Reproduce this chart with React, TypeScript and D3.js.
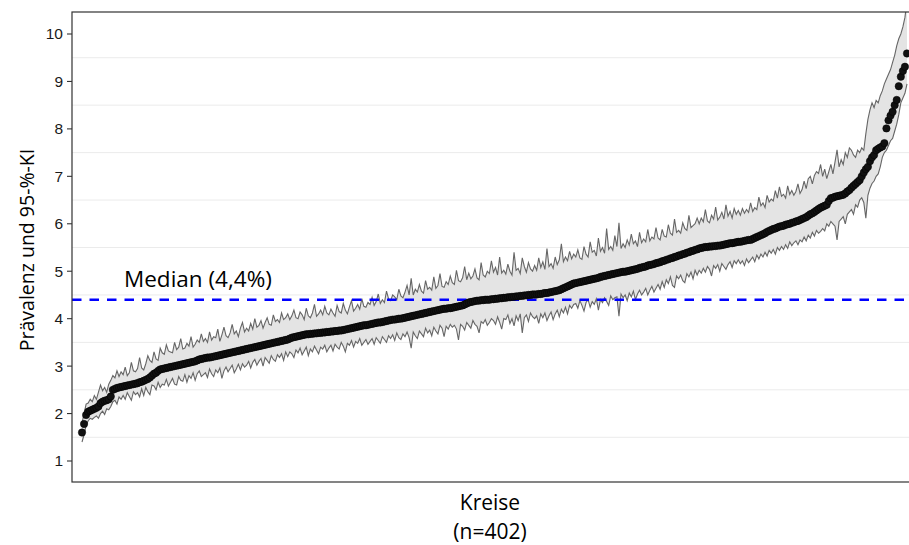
import React from 'react';
import * as d3 from 'd3';

// Prävalenz je Kreis (sortiert), mit unterer und oberer Grenze des 95-%-KI
const prevalence = [
  1.60,1.78,1.97,2.04,2.06,2.08,2.10,2.12,2.15,2.22,2.25,2.27,2.28,2.30,2.36,2.50,2.52,2.54,2.55,2.56,
  2.57,2.58,2.59,2.60,2.61,2.62,2.63,2.64,2.66,2.67,2.69,2.71,2.73,2.76,2.80,2.84,2.86,2.90,2.93,2.94,
  2.95,2.96,2.97,2.98,2.99,3.00,3.01,3.02,3.03,3.04,3.05,3.06,3.07,3.08,3.09,3.10,3.12,3.14,3.15,3.16,
  3.17,3.18,3.18,3.19,3.20,3.21,3.22,3.23,3.24,3.25,3.26,3.27,3.28,3.29,3.30,3.31,3.32,3.33,3.34,3.35,
  3.36,3.37,3.38,3.39,3.40,3.41,3.42,3.43,3.44,3.45,3.46,3.47,3.48,3.49,3.50,3.51,3.52,3.53,3.54,3.55,
  3.56,3.58,3.60,3.61,3.62,3.63,3.64,3.65,3.66,3.67,3.67,3.68,3.68,3.69,3.69,3.70,3.70,3.71,3.71,3.72,
  3.72,3.73,3.73,3.74,3.74,3.75,3.75,3.76,3.77,3.78,3.79,3.80,3.81,3.82,3.83,3.84,3.85,3.86,3.86,3.87,
  3.88,3.89,3.90,3.91,3.92,3.92,3.93,3.94,3.95,3.96,3.97,3.98,3.98,3.99,4.00,4.00,4.01,4.02,4.03,4.04,
  4.05,4.06,4.07,4.08,4.09,4.10,4.11,4.12,4.13,4.14,4.15,4.16,4.17,4.18,4.19,4.20,4.21,4.21,4.22,4.22,
  4.23,4.24,4.25,4.26,4.27,4.28,4.30,4.32,4.34,4.35,4.36,4.37,4.38,4.38,4.39,4.39,4.40,4.40,4.40,4.41,
  4.41,4.42,4.42,4.43,4.43,4.44,4.44,4.45,4.45,4.46,4.46,4.47,4.47,4.48,4.48,4.49,4.49,4.50,4.50,4.51,
  4.51,4.51,4.52,4.52,4.53,4.54,4.54,4.55,4.56,4.57,4.58,4.59,4.60,4.62,4.64,4.66,4.68,4.70,4.72,4.74,
  4.75,4.76,4.77,4.78,4.79,4.80,4.81,4.82,4.83,4.84,4.85,4.86,4.88,4.89,4.90,4.91,4.92,4.93,4.94,4.95,
  4.96,4.97,4.98,4.99,4.99,5.00,5.01,5.02,5.03,5.04,5.05,5.07,5.08,5.09,5.10,5.12,5.13,5.14,5.15,5.17,
  5.18,5.19,5.21,5.22,5.24,5.25,5.27,5.28,5.30,5.31,5.33,5.34,5.36,5.37,5.39,5.40,5.42,5.43,5.45,5.46,
  5.48,5.49,5.50,5.51,5.51,5.52,5.52,5.53,5.53,5.54,5.54,5.55,5.56,5.57,5.58,5.59,5.59,5.60,5.61,5.62,
  5.62,5.63,5.64,5.65,5.66,5.66,5.68,5.70,5.72,5.74,5.76,5.78,5.80,5.83,5.85,5.87,5.89,5.90,5.92,5.94,
  5.95,5.96,5.98,5.99,6.00,6.02,6.03,6.05,6.06,6.08,6.10,6.12,6.14,6.17,6.20,6.22,6.25,6.28,6.31,6.34,
  6.36,6.38,6.40,6.48,6.54,6.55,6.57,6.58,6.59,6.60,6.61,6.64,6.68,6.71,6.76,6.80,6.84,6.88,6.92,7.00,
  7.08,7.15,7.20,7.32,7.40,7.45,7.55,7.58,7.61,7.63,7.70,8.01,8.18,8.28,8.36,8.50,8.61,8.90,9.10,9.22,
  9.31,9.59,
];

const upper = [
  1.80,2.00,2.20,2.22,2.30,2.25,2.38,2.30,2.45,2.60,2.48,2.55,2.45,2.62,2.70,2.80,2.75,2.90,2.78,2.88,
  2.82,2.98,2.80,2.86,3.08,2.90,2.88,2.95,3.18,2.96,2.92,3.05,3.22,3.12,3.08,3.30,3.15,3.12,3.38,3.28,
  3.25,3.45,3.32,3.30,3.28,3.50,3.35,3.40,3.58,3.36,3.38,3.48,3.42,3.62,3.40,3.46,3.55,3.50,3.68,3.52,
  3.58,3.50,3.72,3.55,3.62,3.60,3.78,3.52,3.66,3.82,3.64,3.60,3.70,3.88,3.68,3.74,3.62,3.80,3.92,3.72,
  3.80,3.74,3.90,3.78,4.00,3.82,3.86,3.96,3.80,3.92,4.02,3.88,3.86,4.08,3.94,3.98,3.92,4.12,3.98,4.02,
  4.10,3.98,4.06,4.18,4.02,4.00,4.14,4.08,3.98,4.22,4.06,4.02,4.12,4.30,4.05,4.10,4.18,4.08,4.26,4.12,
  4.08,4.20,4.12,4.05,4.28,4.15,4.12,4.32,4.18,4.10,4.25,4.38,4.16,4.22,4.30,4.20,4.42,4.26,4.24,4.34,
  4.30,4.45,4.28,4.36,4.52,4.32,4.40,4.34,4.58,4.42,4.38,4.50,4.46,4.40,4.62,4.48,4.44,4.56,4.70,4.50,
  4.85,4.50,4.62,4.56,4.72,4.58,4.54,4.80,4.62,4.66,4.60,4.88,4.64,4.70,4.95,4.68,4.66,4.78,4.72,4.90,
  4.76,4.72,5.02,4.80,4.78,4.86,5.10,4.82,4.96,4.84,4.90,5.05,4.86,4.82,5.18,4.92,4.88,5.00,4.95,5.22,
  4.98,5.08,4.92,5.30,4.96,5.02,4.94,5.15,5.00,4.92,5.40,5.02,5.06,4.95,5.28,5.10,4.98,5.18,5.05,5.00,
  5.12,5.02,5.28,5.08,5.20,5.04,5.48,5.10,5.16,5.06,5.30,5.14,5.24,5.58,5.20,5.30,5.22,5.42,5.26,5.36,
  5.30,5.45,5.28,5.25,5.52,5.36,5.30,5.62,5.40,5.44,5.32,5.70,5.42,5.50,5.38,5.90,5.46,5.52,5.44,5.75,
  5.52,6.02,5.48,5.58,5.50,5.66,5.55,5.78,5.58,5.64,5.52,5.82,5.60,5.68,5.62,5.88,5.64,5.72,5.68,5.92,
  5.70,5.66,5.88,5.74,5.72,5.98,5.80,5.76,6.10,5.82,5.86,5.80,6.02,5.90,5.86,6.18,5.92,5.96,6.00,6.12,
  6.00,6.12,6.04,6.30,6.06,6.02,6.18,6.10,6.35,6.08,6.14,6.24,6.10,6.40,6.16,6.26,6.12,6.32,6.20,6.28,
  6.18,6.32,6.22,6.30,6.24,6.44,6.26,6.34,6.30,6.56,6.38,6.44,6.34,6.60,6.46,6.52,6.48,6.70,6.54,6.78,
  6.58,6.62,6.54,6.80,6.62,6.70,6.60,6.68,6.84,6.64,6.72,6.90,6.74,6.95,7.00,6.84,7.02,7.10,7.06,7.25,
  7.00,7.15,6.95,7.10,7.25,7.05,7.30,7.56,7.20,7.35,7.25,7.50,7.40,7.60,7.55,7.45,7.40,7.55,7.50,7.60,
  7.55,7.90,8.20,8.40,8.55,8.45,8.60,8.55,8.70,8.80,8.95,9.05,9.15,9.25,9.40,9.55,9.75,9.90,10.00,10.15,
  10.35,10.70,
];

const lower = [
  1.40,1.55,1.75,1.85,1.90,1.88,1.92,1.95,1.90,2.00,2.05,1.98,2.10,2.08,2.15,2.25,2.28,2.20,2.35,2.30,
  2.38,2.30,2.44,2.36,2.28,2.46,2.40,2.44,2.35,2.52,2.38,2.55,2.46,2.40,2.60,2.58,2.50,2.66,2.55,2.62,
  2.60,2.72,2.58,2.66,2.74,2.62,2.60,2.78,2.70,2.68,2.82,2.66,2.80,2.74,2.86,2.70,2.84,2.90,2.78,2.82,
  2.86,2.76,2.94,2.84,2.78,2.92,2.86,2.96,2.74,2.90,2.98,2.88,2.95,3.02,2.86,2.94,3.04,2.92,3.05,2.98,
  3.02,3.10,2.96,3.08,3.14,3.02,3.10,3.16,3.00,3.18,3.12,3.06,3.22,3.14,3.10,3.24,3.18,3.26,3.12,3.30,
  3.20,3.30,3.26,3.18,3.34,3.28,3.38,3.24,3.32,3.40,3.22,3.36,3.30,3.42,3.34,3.26,3.40,3.36,3.44,3.30,
  3.38,3.44,3.32,3.46,3.40,3.36,3.50,3.42,3.30,3.48,3.44,3.54,3.40,3.52,3.48,3.58,3.44,3.50,3.56,3.46,
  3.52,3.58,3.46,3.60,3.54,3.48,3.62,3.56,3.50,3.64,3.58,3.66,3.54,3.70,3.60,3.56,3.68,3.62,3.72,3.60,
  3.38,3.72,3.64,3.58,3.74,3.68,3.62,3.80,3.70,3.76,3.64,3.82,3.74,3.68,3.86,3.80,3.62,3.84,3.78,3.88,
  3.82,3.86,3.78,3.55,3.88,3.84,3.76,3.92,3.86,3.80,3.96,3.88,3.84,3.70,3.94,3.90,3.98,3.86,3.92,4.00,
  3.96,3.88,4.04,3.92,3.78,4.00,3.98,4.08,3.90,4.00,3.85,4.06,3.96,4.10,3.70,4.02,4.08,3.94,4.12,4.04,
  4.00,4.06,3.90,4.10,4.02,4.12,3.96,4.06,4.14,3.98,4.10,4.18,4.04,4.20,4.12,4.24,4.10,4.28,4.22,4.30,
  4.32,4.22,4.38,4.28,4.16,4.34,4.40,4.24,4.36,4.30,4.42,4.18,4.40,4.34,4.44,4.36,4.28,4.48,4.40,4.44,
  4.46,4.05,4.52,4.44,4.50,4.38,4.54,4.46,4.58,4.40,4.52,4.60,4.50,4.56,4.64,4.50,4.60,4.68,4.56,4.64,
  4.72,4.62,4.78,4.66,4.82,4.74,4.88,4.70,4.66,4.90,4.84,4.92,4.80,4.76,4.95,4.88,4.98,4.84,5.02,4.92,
  5.02,4.96,5.06,4.98,5.10,5.04,4.90,5.12,5.06,5.14,5.00,5.16,5.10,5.04,5.14,5.20,5.08,5.22,5.16,5.24,
  5.16,5.22,5.12,5.26,5.18,5.24,5.30,5.20,5.34,5.26,5.36,5.30,5.40,5.32,5.44,5.38,5.46,5.36,5.50,5.44,
  5.52,5.46,5.56,5.48,5.62,5.54,5.60,5.64,5.56,5.66,5.62,5.72,5.64,5.76,5.70,5.82,5.74,5.86,5.80,5.84,
  5.90,5.85,6.00,5.95,6.05,6.00,5.95,5.66,6.05,6.10,6.15,6.00,6.20,6.25,6.30,6.20,6.40,6.35,6.50,6.55,
  6.45,6.12,6.60,6.75,6.85,6.90,7.00,7.05,7.20,7.40,7.50,7.55,7.65,7.75,7.80,7.95,8.10,8.30,8.55,8.65,
  8.75,8.95,
];

const yTicks = [1, 2, 3, 4, 5, 6, 7, 8, 9, 10];
const yMinor = [1.5, 2.5, 3.5, 4.5, 5.5, 6.5, 7.5, 8.5, 9.5];
const medianValue = 4.4;
const medianLabel = 'Median (4,4%)';
const yTitle = 'Prävalenz und 95-%-KI';
const xTitle = 'Kreise';
const xSubtitle = '(n=402)';

const W = 909;
const H = 545;
const panel = { left: 72, top: 12, right: 913, bottom: 482 };

export default function App() {
  const rows = prevalence.map((v, i) => ({ k: i + 1, v, lo: lower[i], hi: upper[i] }));

  const x = d3.scaleLinear().domain([1, prevalence.length]).range([82, 907]);
  const y = d3.scaleLinear().domain([1, 10]).range([461, 34]);

  const band = d3.area<any>().x(d => x(d.k)).y0(d => y(d.lo)).y1(d => y(d.hi));
  const hiLine = d3.line<any>().x(d => x(d.k)).y(d => y(d.hi));
  const loLine = d3.line<any>().x(d => x(d.k)).y(d => y(d.lo));

  const titleFont = '"Open Sans", "Noto Sans", sans-serif';
  const tickFont = '"Liberation Sans", Arial, sans-serif';

  return (
    <div style={{ position: 'absolute', left: 0, top: 0 }}>
      <svg width={W} height={H} style={{ display: 'block', background: '#fff' }}>
        <defs>
          <clipPath id="panel-clip">
            <rect x={panel.left} y={panel.top} width={panel.right - panel.left} height={panel.bottom - panel.top} />
          </clipPath>
        </defs>

        {/* grid */}
        {yMinor.map(t => (
          <line key={t} x1={panel.left} x2={panel.right} y1={y(t)} y2={y(t)} stroke="#ebebeb" strokeWidth={1} />
        ))}

        <g clipPath="url(#panel-clip)">
          <path d={band(rows) || ''} fill="#e4e4e4" />
          <path d={hiLine(rows) || ''} fill="none" stroke="#666" strokeWidth={1.1} />
          <path d={loLine(rows) || ''} fill="none" stroke="#666" strokeWidth={1.1} />
          <line x1={panel.left} x2={panel.right} y1={y(medianValue)} y2={y(medianValue)}
            stroke="#0000ff" strokeWidth={2.4} strokeDasharray="9.5,8" />
          {rows.map(d => (
            <circle key={d.k} cx={x(d.k)} cy={y(d.v)} r={3.7} fill="#111" stroke="#000" strokeWidth={0.5} />
          ))}
        </g>

        {/* panel border */}
        <rect x={panel.left} y={panel.top} width={panel.right - panel.left} height={panel.bottom - panel.top}
          fill="none" stroke="#333" strokeWidth={1.2} />

        {/* y axis */}
        {yTicks.map(t => (
          <g key={t} transform={`translate(0,${y(t)})`}>
            <line x1={panel.left - 5} x2={panel.left} stroke="#333" strokeWidth={1.1} />
            <text x={panel.left - 9} dy="0.35em" textAnchor="end" fontFamily={tickFont} fontSize={15.5} fill="#1a1a1a">{t}</text>
          </g>
        ))}

        <text x={124} y={287} fontFamily={titleFont} fontSize={22.5} fill="#000">{medianLabel}</text>

        <text transform={`translate(34,${(panel.top + panel.bottom) / 2 + 3}) rotate(-90)`} textAnchor="middle"
          fontFamily={titleFont} fontSize={19.5} fill="#000">{yTitle}</text>
        <text x={490} y={510} textAnchor="middle" fontFamily={titleFont} fontSize={21} fill="#000">{xTitle}</text>
        <text x={490} y={539} textAnchor="middle" fontFamily={titleFont} fontSize={21} fill="#000">{xSubtitle}</text>
      </svg>
    </div>
  );
}
